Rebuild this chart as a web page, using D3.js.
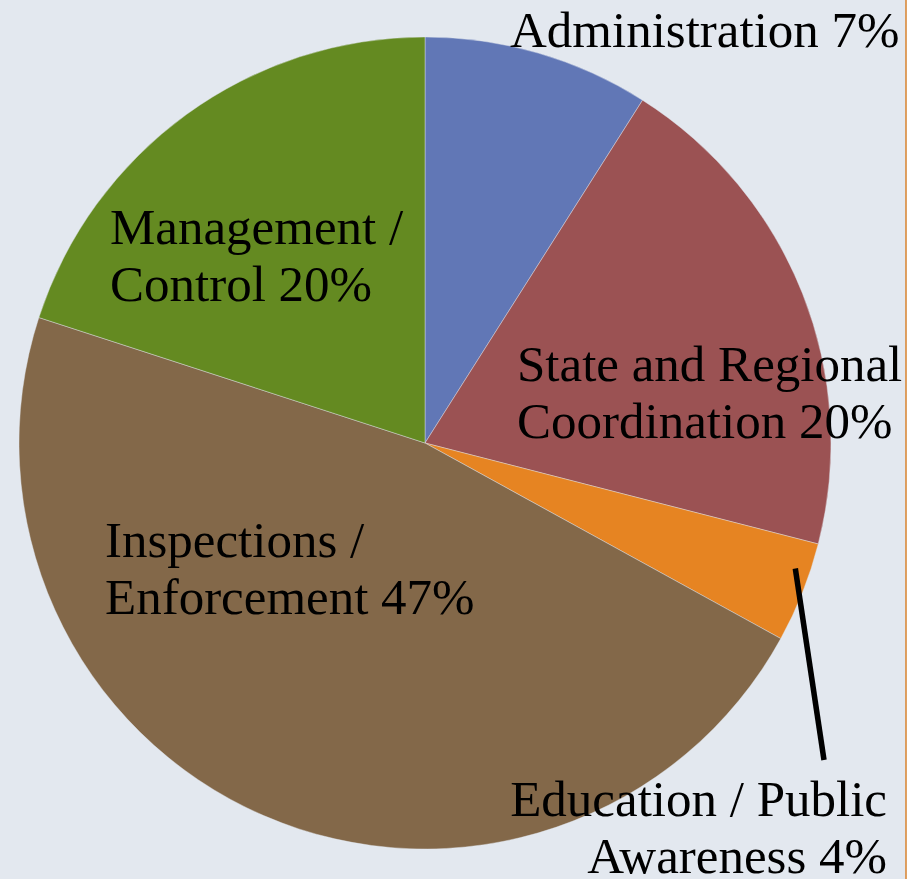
<!DOCTYPE html>
<html>
<head>
<meta charset="utf-8">
<script src="https://cdn.jsdelivr.net/npm/d3@7"></script>
<style>
  html, body { margin: 0; padding: 0; background: #fff; }
  svg { display: block; }
</style>
</head>
<body>
<div id="chart"></div>
<script>
// 预算分配饼图：从 12 点钟方向顺时针
const categories = ["Administration", "State and Regional Coordination", "Education / Public Awareness", "Inspections / Enforcement", "Management / Control"];
const values = [9, 20, 4, 47, 20];          // 按扇区角度读出
const pctLabels = ["7%", "20%", "4%", "47%", "20%"]; // 图上印的百分比
const labelLines = [
  ["Administration 7%"],
  ["State and Regional", "Coordination 20%"],
  ["Education / Public", "Awareness 4%"],
  ["Inspections /", "Enforcement 47%"],
  ["Management /", "Control 20%"],
];

(() => {
  const W = 921, H = 879;
  const CX = 425, CY = 443, R = 406;
  const COL = ["#6177b6", "#9b5253", "#e68422", "#836849", "#648a21"];
  const FONT = "'Liberation Serif', 'Times New Roman', serif";

  const svg = d3.select("#chart").append("svg")
    .attr("width", W).attr("height", H).attr("viewBox", `0 0 ${W} ${H}`);

  // 背景面板 + 右侧橙色边线
  svg.append("rect").attr("x", 0).attr("y", 0).attr("width", 906).attr("height", H)
    .attr("fill", "#e3e8ef");
  svg.append("line").attr("x1", 906).attr("x2", 906).attr("y1", 0).attr("y2", H)
    .attr("stroke", "#d9893a").attr("stroke-width", 1.6);

  const pie = d3.pie().sort(null).value(d => d)(values);
  const arc = d3.arc().innerRadius(0).outerRadius(R);

  const g = svg.append("g").attr("transform", `translate(${CX},${CY})`);
  g.selectAll("path").data(pie).join("path")
    .attr("d", arc)
    .attr("fill", (d, i) => COL[i])
    .attr("stroke", "#e3e8ef").attr("stroke-width", 0.6).attr("stroke-opacity", 0.7);

  // 标签位置（相对画布）
  const LAB = [
    { x: 510, y: 47, anchor: "start" },
    { x: 517, y: 381, anchor: "start" },
    { x: 887, y: 816, anchor: "end" },
    { x: 105, y: 557, anchor: "start" },
    { x: 110, y: 244, anchor: "start" },
  ];
  const LH = 57;

  labelLines.forEach((lines, i) => {
    const t = svg.append("text")
      .attr("text-anchor", LAB[i].anchor)
      .attr("style", `font:51px ${FONT};fill:#000`);
    lines.forEach((s, j) => {
      t.append("tspan").attr("x", LAB[i].x).attr("y", LAB[i].y + j * LH).text(s);
    });
  });

  // Education 引线：从橙色扇区内部拉到标签上方
  const a = pie[2];
  const ang = a.startAngle + 0.3 * (a.endAngle - a.startAngle);
  const p0 = [CX + Math.sin(ang) * (R - 15), CY - Math.cos(ang) * (R - 15)];
  svg.append("line")
    .attr("x1", p0[0]).attr("y1", p0[1])
    .attr("x2", 824).attr("y2", 760)
    .attr("stroke", "#000").attr("stroke-width", 5.5);
})();
</script>
</body>
</html>
